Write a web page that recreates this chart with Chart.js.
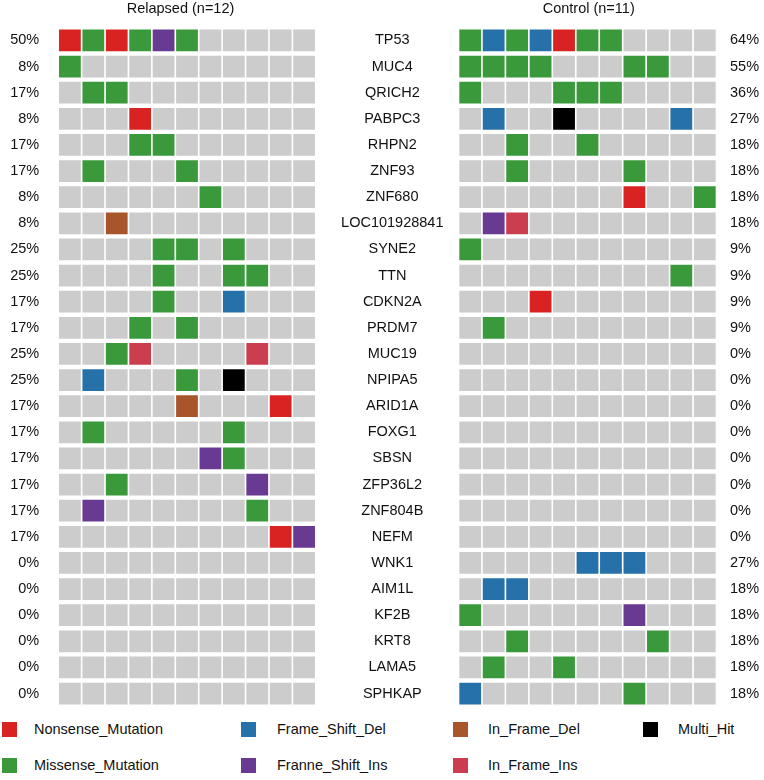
<!DOCTYPE html>
<html>
<head>
<meta charset="utf-8">
<title>Oncoplot</title>
<script src="https://cdn.jsdelivr.net/npm/chart.js@4.4.1/dist/chart.umd.min.js"></script>
<style>
  body { margin: 0; background: #fff; width: 764px; height: 780px; position: relative; overflow: hidden;
         font-family: "Liberation Sans", Arial, Helvetica, sans-serif; }
  #relChart { position: absolute; left: 0; top: 0; }
  #ctlChart { position: absolute; left: 330px; top: 0; }
  .leg-box { position: absolute; width: 15px; height: 15px; }
  .leg-text { position: absolute; font-size: 14.5px; color: #111; line-height: 16px; white-space: nowrap; }
</style>
</head>
<body>
<canvas id="relChart" width="330" height="720"></canvas>
<canvas id="ctlChart" width="434" height="720"></canvas>
<div id="legend"></div>

<script>
const FONT = '"Liberation Sans", Arial, Helvetica, sans-serif';

const genes = ["TP53", "MUC4", "QRICH2", "PABPC3", "RHPN2", "ZNF93", "ZNF680", "LOC101928841",
    "SYNE2", "TTN", "CDKN2A", "PRDM7", "MUC19", "NPIPA5", "ARID1A", "FOXG1", "SBSN",
    "ZFP36L2", "ZNF804B", "NEFM", "WNK1", "AIM1L", "KF2B", "KRT8", "LAMA5", "SPHKAP"];

// 0 = no mutation, otherwise index into mutTypes
const mutTypes = ["", "Nonsense_Mutation", "Missense_Mutation", "Frame_Shift_Del",
    "Franne_Shift_Ins", "In_Frame_Del", "In_Frame_Ins", "Multi_Hit"];
const mutColors = ["#cccccc", "#d92323", "#3a9a3b", "#2671aa", "#693a92", "#a8552b", "#cb3e50", "#000000"];

const relTitle = "Relapsed (n=12)";
const ctlTitle = "Control (n=11)";
const relN = 12;
const ctlN = 11;

const relapsed = [
    [1, 2, 1, 2, 4, 2, 0, 0, 0, 0, 0],
    [2, 0, 0, 0, 0, 0, 0, 0, 0, 0, 0],
    [0, 2, 2, 0, 0, 0, 0, 0, 0, 0, 0],
    [0, 0, 0, 1, 0, 0, 0, 0, 0, 0, 0],
    [0, 0, 0, 2, 2, 0, 0, 0, 0, 0, 0],
    [0, 2, 0, 0, 0, 2, 0, 0, 0, 0, 0],
    [0, 0, 0, 0, 0, 0, 2, 0, 0, 0, 0],
    [0, 0, 5, 0, 0, 0, 0, 0, 0, 0, 0],
    [0, 0, 0, 0, 2, 2, 0, 2, 0, 0, 0],
    [0, 0, 0, 0, 2, 0, 0, 2, 2, 0, 0],
    [0, 0, 0, 0, 2, 0, 0, 3, 0, 0, 0],
    [0, 0, 0, 2, 0, 2, 0, 0, 0, 0, 0],
    [0, 0, 2, 6, 0, 0, 0, 0, 6, 0, 0],
    [0, 3, 0, 0, 0, 2, 0, 7, 0, 0, 0],
    [0, 0, 0, 0, 0, 5, 0, 0, 0, 1, 0],
    [0, 2, 0, 0, 0, 0, 0, 2, 0, 0, 0],
    [0, 0, 0, 0, 0, 0, 4, 2, 0, 0, 0],
    [0, 0, 2, 0, 0, 0, 0, 0, 4, 0, 0],
    [0, 4, 0, 0, 0, 0, 0, 0, 2, 0, 0],
    [0, 0, 0, 0, 0, 0, 0, 0, 0, 1, 4],
    [0, 0, 0, 0, 0, 0, 0, 0, 0, 0, 0],
    [0, 0, 0, 0, 0, 0, 0, 0, 0, 0, 0],
    [0, 0, 0, 0, 0, 0, 0, 0, 0, 0, 0],
    [0, 0, 0, 0, 0, 0, 0, 0, 0, 0, 0],
    [0, 0, 0, 0, 0, 0, 0, 0, 0, 0, 0],
    [0, 0, 0, 0, 0, 0, 0, 0, 0, 0, 0]
];

const control = [
    [2, 3, 2, 3, 1, 2, 2, 0, 0, 0, 0],
    [2, 2, 2, 2, 0, 0, 0, 2, 2, 0, 0],
    [2, 0, 0, 0, 2, 2, 2, 0, 0, 0, 0],
    [0, 3, 0, 0, 7, 0, 0, 0, 0, 3, 0],
    [0, 0, 2, 0, 0, 2, 0, 0, 0, 0, 0],
    [0, 0, 2, 0, 0, 0, 0, 2, 0, 0, 0],
    [0, 0, 0, 0, 0, 0, 0, 1, 0, 0, 2],
    [0, 4, 6, 0, 0, 0, 0, 0, 0, 0, 0],
    [2, 0, 0, 0, 0, 0, 0, 0, 0, 0, 0],
    [0, 0, 0, 0, 0, 0, 0, 0, 0, 2, 0],
    [0, 0, 0, 1, 0, 0, 0, 0, 0, 0, 0],
    [0, 2, 0, 0, 0, 0, 0, 0, 0, 0, 0],
    [0, 0, 0, 0, 0, 0, 0, 0, 0, 0, 0],
    [0, 0, 0, 0, 0, 0, 0, 0, 0, 0, 0],
    [0, 0, 0, 0, 0, 0, 0, 0, 0, 0, 0],
    [0, 0, 0, 0, 0, 0, 0, 0, 0, 0, 0],
    [0, 0, 0, 0, 0, 0, 0, 0, 0, 0, 0],
    [0, 0, 0, 0, 0, 0, 0, 0, 0, 0, 0],
    [0, 0, 0, 0, 0, 0, 0, 0, 0, 0, 0],
    [0, 0, 0, 0, 0, 0, 0, 0, 0, 0, 0],
    [0, 0, 0, 0, 0, 3, 3, 3, 0, 0, 0],
    [0, 3, 3, 0, 0, 0, 0, 0, 0, 0, 0],
    [2, 0, 0, 0, 0, 0, 0, 4, 0, 0, 0],
    [0, 0, 2, 0, 0, 0, 0, 0, 2, 0, 0],
    [0, 2, 0, 0, 2, 0, 0, 0, 0, 0, 0],
    [3, 0, 0, 0, 0, 0, 0, 2, 0, 0, 0]
];

// percent of samples mutated per gene
const pctLabels = (matrix, n) =>
    matrix.map(row => Math.round(row.filter(v => v > 0).length / n * 100) + "%");
const relPct = pctLabels(relapsed, relN);
const ctlPct = pctLabels(control, ctlN);

// one floating-bar dataset per sample column
function buildDatasets(matrix) {
    const sets = [];
    const nCols = matrix[0].length;
    for (let c = 0; c < nCols; c++) {
        sets.push({
            data: matrix.map(() => [c + 0.035, c + 0.965]),
            backgroundColor: matrix.map(row => mutColors[row[c]]),
            borderWidth: 0,
            grouped: false,
            barPercentage: 0.83,
            categoryPercentage: 1
        });
    }
    return sets;
}

const panelTitle = {
    id: "panelTitle",
    afterDraw(chart, args, opts) {
        const { ctx } = chart;
        ctx.save();
        ctx.font = `14.5px ${FONT}`;
        ctx.fillStyle = "#111";
        ctx.textAlign = "center";
        ctx.textBaseline = "middle";
        ctx.fillText(opts.text, opts.x, opts.y);
        ctx.restore();
    }
};

const tickFont = { family: FONT, size: 14.5 };

// fixed axis width, and no extra top/bottom padding from tick labels
const fixWidth = w => s => {
    s.width = w;
    s.paddingTop = 0;
    s.paddingBottom = 0;
};

/* Relapsed panel */
new Chart(document.getElementById("relChart"), {
    type: "bar",
    data: { labels: genes, datasets: buildDatasets(relapsed) },
    options: {
        indexAxis: "y",
        responsive: false,
        animation: false,
        layout: { padding: { left: 0, top: 27.4, right: 14.2, bottom: 13.4 } },
        plugins: {
            legend: { display: false },
            tooltip: { enabled: false },
            panelTitle: { text: relTitle, x: 180.5, y: 9 }
        },
        scales: {
            x: { type: "linear", min: 0, max: relapsed[0].length, display: false },
            y: {
                type: "category",
                position: "left",
                grid: { display: false, drawTicks: false },
                border: { display: false },
                ticks: {
                    autoSkip: false,
                    color: "#111",
                    font: tickFont,
                    padding: 19,
                    callback: (v, i) => relPct[i]
                },
                afterFit: fixWidth(58.2)
            }
        }
    },
    plugins: [panelTitle]
});

/* Control panel */
new Chart(document.getElementById("ctlChart"), {
    type: "bar",
    data: { labels: genes, datasets: buildDatasets(control) },
    options: {
        indexAxis: "y",
        responsive: false,
        animation: false,
        layout: { padding: { left: 0, top: 27.4, right: 0, bottom: 13.4 } },
        plugins: {
            legend: { display: false },
            tooltip: { enabled: false },
            panelTitle: { text: ctlTitle, x: 258.7, y: 9 }
        },
        scales: {
            x: { type: "linear", min: 0, max: control[0].length, display: false },
            y: {
                type: "category",
                position: "left",
                grid: { display: false, drawTicks: false },
                border: { display: false },
                ticks: {
                    autoSkip: false,
                    color: "#111",
                    font: tickFont,
                    padding: 15,
                    crossAlign: "center"
                },
                afterFit: fixWidth(128.5)
            },
            y2: {
                type: "category",
                position: "right",
                grid: { display: false, drawTicks: false },
                border: { display: false },
                ticks: {
                    autoSkip: false,
                    color: "#111",
                    font: tickFont,
                    padding: 13.5,
                    callback: (v, i) => ctlPct[i]
                },
                afterFit: fixWidth(47.5)
            }
        }
    },
    plugins: [panelTitle]
});

/* Legend */
const legend = document.getElementById("legend");
const legBoxX = [2, 241, 453, 643];
const legTextX = [34, 277, 488, 678];
const legRowY = [729, 765];
for (let t = 1; t < mutTypes.length; t++) {
    const col = Math.floor((t - 1) / 2);
    const row = (t - 1) % 2;
    const box = document.createElement("div");
    box.className = "leg-box";
    box.style.left = legBoxX[col] + "px";
    box.style.top = (legRowY[row] - 7.5) + "px";
    box.style.background = mutColors[t];
    legend.appendChild(box);
    const txt = document.createElement("div");
    txt.className = "leg-text";
    txt.style.left = legTextX[col] + "px";
    txt.style.top = (legRowY[row] - 8) + "px";
    txt.textContent = mutTypes[t];
    legend.appendChild(txt);
}
</script>
</body>
</html>
